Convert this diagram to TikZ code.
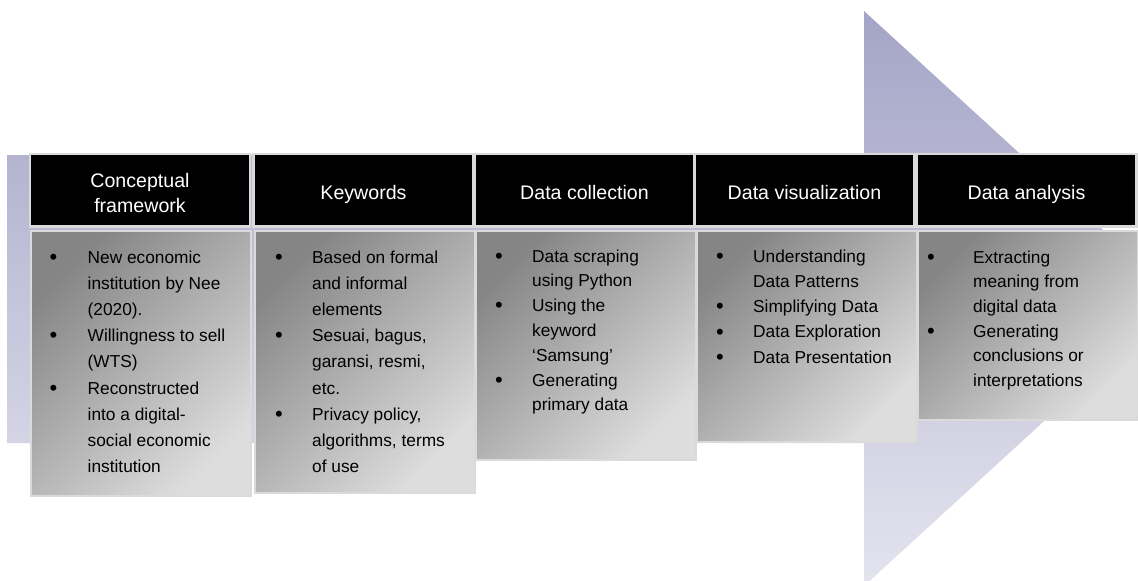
\documentclass[tikz,border=0pt]{standalone}
\usepackage{fontspec}
\setmainfont{Liberation Sans}
\usetikzlibrary{calc}
\definecolor{ARROWTOP}{HTML}{A4A4C7}
\definecolor{ARROWBOT}{HTML}{E4E4EF}
\definecolor{FRAME}{HTML}{DADADA}
\definecolor{PANELDARK}{HTML}{858585}
\definecolor{PANELLIGHT}{HTML}{DDDDDD}
\newlength\bulw
\newcommand{\itm}[1]{\par\hangindent=\bulw\hangafter=1\noindent\makebox[\bulw][l]{\raisebox{-1.2pt}{\fontsize{22}{22}\selectfont\textbullet}}#1}
\newcommand{\bodytext}[2]{\parbox[t]{200pt}{\setlength\bulw{#1}#2}}

\begin{document}
\begin{tikzpicture}[x=1pt, y=-1pt,
    hdr/.style={fill=black, draw=FRAME, line width=2.5pt, minimum width=220pt, minimum height=72.5pt, inner sep=0pt, text=white, align=center, font=\fontsize{19.6}{25}\selectfont, text height=20pt, text depth=2pt},
    hdrtext/.style={inner sep=0pt, text=white, align=center, font=\fontsize{19.6}{25}\selectfont},
    panel/.style={draw=FRAME, line width=2pt, top color=PANELDARK, bottom color=PANELLIGHT, shading angle=45, minimum width=220pt, inner sep=0pt, anchor=north west},
    items/.style={anchor=base west, inner sep=0pt, font=\fontsize{17.3}{#1}\selectfont}]
    \useasboundingbox (0,0) rectangle (1138,581);
    \shade[top color=ARROWTOP, bottom color=ARROWBOT] (7,155) -- (864,155) -- (864,11) -- (1178,298.5) -- (864,586) -- (864,443) -- (7,443) -- cycle;
    \node[hdr] (h1) at (140,190) {};
    \node[hdrtext] (h1text) at ([yshift=-2.5pt]h1.center) {Conceptual\\framework};
    \node[hdr] (h2) at (363.5,190) {Keywords};
    \node[hdr] (h3) at (584.5,190) {Data collection};
    \node[hdr] (h4) at (804.5,190) {Data visualization};
    \node[hdr] (h5) at (1026.5,190) {Data analysis};
    \node[panel, minimum height=265pt] (p1) at (29.5,229.5) {};
    \node[panel, minimum height=262pt] (p2) at (253.5,229.5) {};
    \node[panel, minimum height=229pt] (p3) at (475,229.5) {};
    \node[panel, minimum height=211pt] (p4) at (695.5,229.5) {};
    \node[panel, minimum height=189pt] (p5) at (916.5,229.5) {};
    \node[items=26.2] (t1) at ($(p1.north west)+(20,33.5)$) {\bodytext{38pt}{\itm{New economic\\institution by Nee\\(2020).}\itm{Willingness to sell\\(WTS)}\itm{Reconstructed\\into a digital-\\social economic\\institution}}};
    \node[items=26.2] (t2) at ($(p2.north west)+(21.5,33.5)$) {\bodytext{37pt}{\itm{Based on formal\\and informal\\elements}\itm{Sesuai, bagus,\\garansi, resmi,\\etc.}\itm{Privacy policy,\\algorithms, terms\\of use}}};
    \node[items=24.8] (t3) at ($(p3.north west)+(20,32.5)$) {\bodytext{37pt}{\itm{Data scraping\\using Python}\itm{Using the\\keyword\\`Samsung'}\itm{Generating\\primary data}}};
    \node[items=25.3] (t4) at ($(p4.north west)+(20.5,32.5)$) {\bodytext{37pt}{\itm{Understanding\\Data Patterns}\itm{Simplifying Data}\itm{Data Exploration}\itm{Data Presentation}}};
    \node[items=24.7] (t5) at ($(p5.north west)+(10.5,33.5)$) {\bodytext{46pt}{\itm{Extracting\\meaning from\\digital data}\itm{Generating\\conclusions or\\interpretations}}};
\end{tikzpicture}
\end{document}
